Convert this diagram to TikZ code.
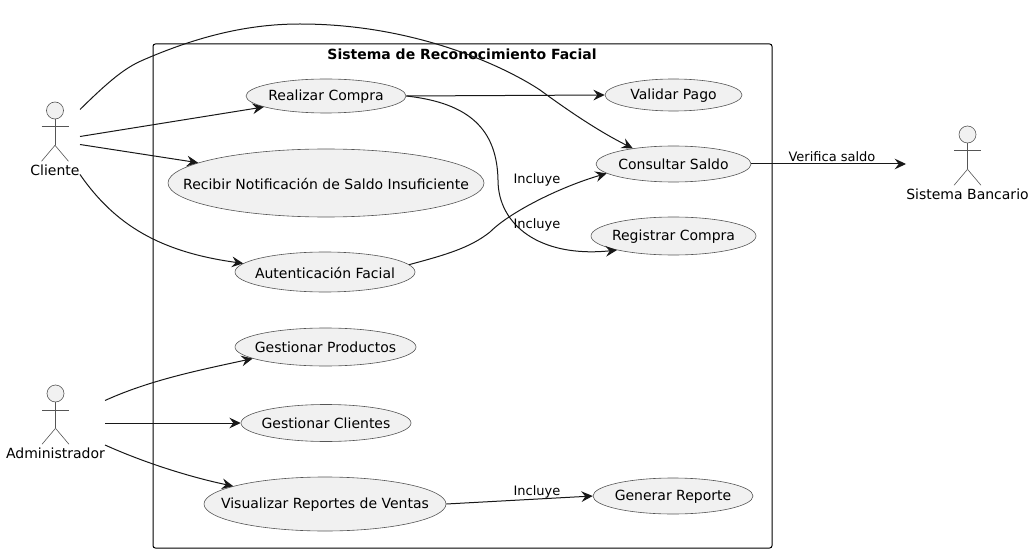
\documentclass[tikz,border=0pt]{standalone}
\usepackage{fontspec}
\setmainfont{DejaVu Sans}
\usetikzlibrary{arrows.meta,shapes.geometric,calc}
\definecolor{ucfill}{HTML}{F1F1F1}
\definecolor{ucline}{HTML}{181818}
\definecolor{ucthin}{HTML}{555555}
\tikzset{
  x=0.75pt,y=-0.75pt,
  usecase/.style={ellipse,draw=ucthin,fill=ucfill,line width=0.45pt,inner sep=0pt,label={[txt,yshift=-0.4pt]center:#1}},
  txt/.style={inner sep=0pt,font=\fontsize{10.5}{12}\selectfont,text=black},
  edgelabel/.style={inner sep=0pt,font=\fontsize{9.75}{12}\selectfont,text=black},
  conn/.style={draw=ucline,line width=0.75pt,-{Stealth[length=8.5pt,width=8pt,inset=3pt]}},
  actorline/.style={draw=ucthin,line width=0.45pt},
  actorhead/.style={circle,draw=ucthin,fill=ucfill,line width=0.45pt,inner sep=0pt,minimum size=12.75pt},
}
\newcommand{\ucactor}[3]{% name, x, head centre y
  \node[actorhead] (#1head) at (#2,#3) {};
  \draw[actorline] (#1head.south) -- ++(0,26) coordinate (#1hip);
  \draw[actorline] ($(#1head.south)+(-13.5,7.5)$) -- ++(27,0);
  \draw[actorline] (#1hip) -- ++(-13.5,16);
  \draw[actorline] (#1hip) -- ++(13.5,16);
}
\begin{document}
\begin{tikzpicture}
\useasboundingbox (0,0) rectangle (1034,552);
\node[draw=black,line width=0.75pt,rounded corners=1.8pt,minimum width=464.25pt,minimum height=378pt,inner sep=0pt,anchor=north west] (sys) at (152.5,43.5) {};
\node[txt,font=\fontsize{10.5}{12}\selectfont\bfseries] (systitle) at (462,54) {Sistema de Reconocimiento Facial};

\ucactor{cli}{55}{110.5}
\node[txt] (clilabel) at (55,170) {Cliente};
\ucactor{adm}{55.5}{393.5}
\node[txt] (admlabel) at (55.5,453) {Administrador};
\ucactor{ban}{967.5}{134.5}
\node[txt] (banlabel) at (967.5,194) {Sistema Bancario};

\node[usecase={Realizar Compra},minimum width=120pt,minimum height=25.5pt] (realizar) at (326,96) {};
\node[usecase={Recibir Notificación de Saldo Insuficiente},minimum width=237pt,minimum height=51pt] (recibir) at (326,183) {};
\node[usecase={Autenticación Facial},minimum width=135pt,minimum height=30pt] (auten) at (325,272) {};
\node[usecase={Gestionar Productos},minimum width=135.75pt,minimum height=28.5pt] (gprod) at (325.5,347) {};
\node[usecase={Gestionar Clientes},minimum width=127.5pt,minimum height=27.75pt] (gcli) at (326,423) {};
\node[usecase={Visualizar Reportes de Ventas},minimum width=181.5pt,minimum height=40.5pt] (visual) at (325,504) {};
\node[usecase={Validar Pago},minimum width=102.75pt,minimum height=24pt] (validar) at (673.5,95) {};
\node[usecase={Consultar Saldo},minimum width=116.25pt,minimum height=27pt] (consultar) at (673.5,164) {};
\node[usecase={Registrar Compra},minimum width=123.75pt,minimum height=28.5pt] (registrar) at (673.5,236) {};
\node[usecase={Generar Reporte},minimum width=120pt,minimum height=27pt] (generar) at (673,496) {};

\coordinate (c1) at (80,109.5);
\coordinate (c2) at (80,136.5);
\coordinate (c3) at (80,144.5);
\coordinate (c4) at (80,174.5);
\coordinate (a1) at (105,400.5);
\coordinate (a2) at (105,423);
\coordinate (a3) at (105,445);
\coordinate (bank) at (906,164);

\draw[conn] (c1) .. controls (110,80) and (125,68) .. (142,60.5) .. controls (205,33) and (255,24) .. (300,24) .. controls (420,24) and (510,70) .. (540,90) .. controls (570,112) and (600,132) .. (consultar.159);
\draw[conn] (c2) -- (realizar.190);
\draw[conn] (c3) -- (recibir.171);
\draw[conn] (c4) .. controls (115,225) and (160,252) .. (auten.174.4);
\draw[conn] (a1) .. controls (150,380) and (200,370) .. (gprod.189.7);
\draw[conn] (a2) -- (gcli.west);
\draw[conn] (a3) .. controls (145,463) and (190,477) .. (visual.169);
\draw[conn] (realizar.east) -- (validar.west);
\draw[conn] (realizar.east) .. controls (470,103) and (497,130) .. (498,180) .. controls (498,225) and (540,258) .. (registrar.194);
\draw[conn] (auten.5.3) .. controls (445,255) and (470,248) .. (490,232) .. controls (510,212) and (560,187) .. (consultar.188);
\draw[conn] (consultar.east) -- (bank);
\draw[conn] (visual.east) -- (generar.west);

\node[edgelabel] (l1) at (537,180) {Incluye};
\node[edgelabel] (l2) at (537,225) {Incluye};
\node[edgelabel] (l3) at (537,492) {Incluye};
\node[edgelabel] (l4) at (832,157) {Verifica saldo};
\end{tikzpicture}
\end{document}
